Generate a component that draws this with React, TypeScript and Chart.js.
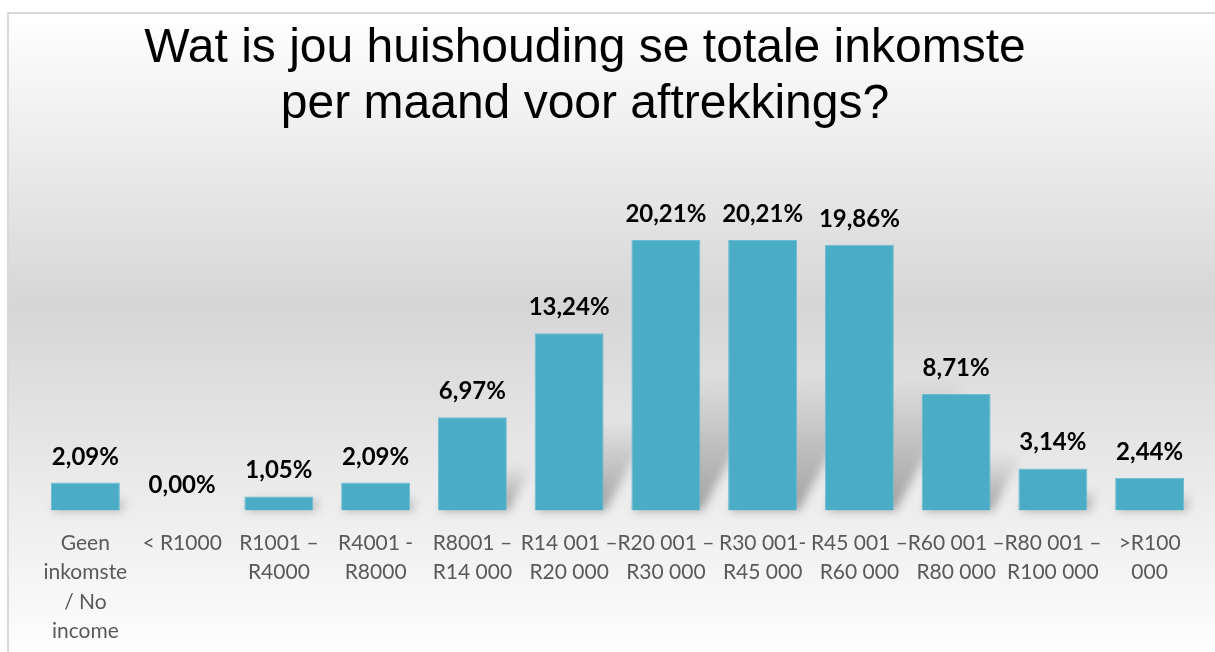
import React, { useEffect, useRef } from "react";
import { Chart, registerables } from "chart.js";

Chart.register(...registerables);

const titleLines: string[] = [
  "Wat is jou huishouding se totale inkomste",
  "per maand voor aftrekkings?",
];

const categories: string[][] = [
  ["Geen", "inkomste", "/ No", "income"],
  ["< R1000"],
  ["R1001 –", "R4000"],
  ["R4001 -", "R8000"],
  ["R8001 –", "R14 000"],
  ["R14 001 –", "R20 000"],
  ["R20 001 –", "R30 000"],
  ["R30 001-", "R45 000"],
  ["R45 001 –", "R60 000"],
  ["R60 001 –", "R80 000"],
  ["R80 001 –", "R100 000"],
  [">R100", "000"],
];

const values: number[] = [2.09, 0.0, 1.05, 2.09, 6.97, 13.24, 20.21, 20.21, 19.86, 8.71, 3.14, 2.44];

const valueLabels: string[] = values.map((v) => v.toFixed(2).replace(".", ",") + "%");

const W = 1215;
const H = 652;

const backgroundPlugin = {
  id: "bgFrame",
  beforeDraw(chart: any) {
    const ctx = chart.ctx as CanvasRenderingContext2D;
    ctx.save();
    ctx.fillStyle = "#ffffff";
    ctx.fillRect(0, 0, chart.width, chart.height);
    const g = ctx.createLinearGradient(0, 13, 0, 665);
    g.addColorStop(0, "#ffffff");
    g.addColorStop(0.45, "#d6d6d6");
    g.addColorStop(1, "#ffffff");
    ctx.fillStyle = g;
    ctx.fillRect(8, 13, chart.width, chart.height);
    ctx.strokeStyle = "#d9d9d9";
    ctx.lineWidth = 2;
    ctx.beginPath();
    ctx.moveTo(8, chart.height + 10);
    ctx.lineTo(8, 13);
    ctx.lineTo(chart.width + 10, 13);
    ctx.stroke();
    ctx.restore();
  },
};

const titlePlugin = {
  id: "customTitle",
  afterDraw(chart: any) {
    const ctx = chart.ctx as CanvasRenderingContext2D;
    ctx.save();
    ctx.fillStyle = "#000000";
    ctx.font = "48px 'Liberation Sans', Arial, sans-serif";
    ctx.textAlign = "center";
    ctx.textBaseline = "alphabetic";
    titleLines.forEach((line, i) => {
      ctx.fillText(line, 585, 62 + i * 56);
    });
    ctx.restore();
  },
};

const shadowPlugin = {
  id: "barShadow",
  beforeDatasetsDraw(chart: any) {
    const ctx = chart.ctx as CanvasRenderingContext2D;
    const meta = chart.getDatasetMeta(0);
    ctx.save();
    ctx.filter = "blur(5px)";
    meta.data.forEach((bar: any) => {
      const p = bar.getProps(["x", "y", "base", "width"], true);
      const h = p.base - p.y;
      if (h <= 0.5) return;
      const left = p.x - p.width / 2;
      const right = p.x + p.width / 2;
      const sh = Math.max(h * 0.5, 14);
      const dx = sh * 0.55;
      const g = ctx.createLinearGradient(0, p.base, 0, p.base - sh);
      g.addColorStop(0, "rgba(0,0,0,0.32)");
      g.addColorStop(1, "rgba(0,0,0,0)");
      ctx.fillStyle = g;
      ctx.beginPath();
      ctx.moveTo(left + 2, p.base);
      ctx.lineTo(right + 2, p.base);
      ctx.lineTo(right + dx, p.base - sh);
      ctx.lineTo(left + dx, p.base - sh);
      ctx.closePath();
      ctx.fill();
    });
    ctx.restore();
  },
};

const valueLabelPlugin = {
  id: "valueLabels",
  afterDatasetsDraw(chart: any) {
    const ctx = chart.ctx as CanvasRenderingContext2D;
    const meta = chart.getDatasetMeta(0);
    ctx.save();
    ctx.fillStyle = "#000000";
    ctx.font = "bold 24px Lato, 'Noto Sans', sans-serif";
    ctx.textAlign = "center";
    ctx.textBaseline = "alphabetic";
    meta.data.forEach((bar: any, i: number) => {
      const p = bar.getProps(["x", "y"], true);
      ctx.fillText(valueLabels[i], p.x, p.y - 18);
    });
    ctx.restore();
  },
};

export default function App() {
  const canvasRef = useRef<HTMLCanvasElement | null>(null);

  useEffect(() => {
    if (!canvasRef.current) return;
    const chart = new Chart(canvasRef.current, {
      type: "bar",
      data: {
        labels: categories,
        datasets: [
          {
            data: values,
            backgroundColor: "#4bacc6",
            borderColor: "#6dbdd2",
            borderWidth: 1,
            categoryPercentage: 1,
            barPercentage: 0.713,
          },
        ],
      },
      options: {
        animation: false,
        responsive: true,
        maintainAspectRatio: false,
        layout: {
          padding: { left: 37, right: 17, top: 176, bottom: 0 },
        },
        plugins: {
          legend: { display: false },
          title: { display: false },
          tooltip: { enabled: false },
        },
        scales: {
          x: {
            grid: { display: false },
            border: { display: false },
            afterFit(scale: any) {
              scale.height = 141.5;
            },
            ticks: {
              color: "#595959",
              font: { family: "Lato, 'Noto Sans', sans-serif", size: 21, lineHeight: 1.41 },
              padding: 9.5,
              maxRotation: 0,
              minRotation: 0,
              autoSkip: false,
            },
          },
          y: {
            display: false,
            min: 0,
            max: 25,
          },
        },
      },
      plugins: [backgroundPlugin, shadowPlugin, valueLabelPlugin, titlePlugin],
    });
    return () => chart.destroy();
  }, []);

  return (
    <div style={{ position: "fixed", left: 0, top: 0, width: W, height: H }}>
      <canvas ref={canvasRef} />
    </div>
  );
}
